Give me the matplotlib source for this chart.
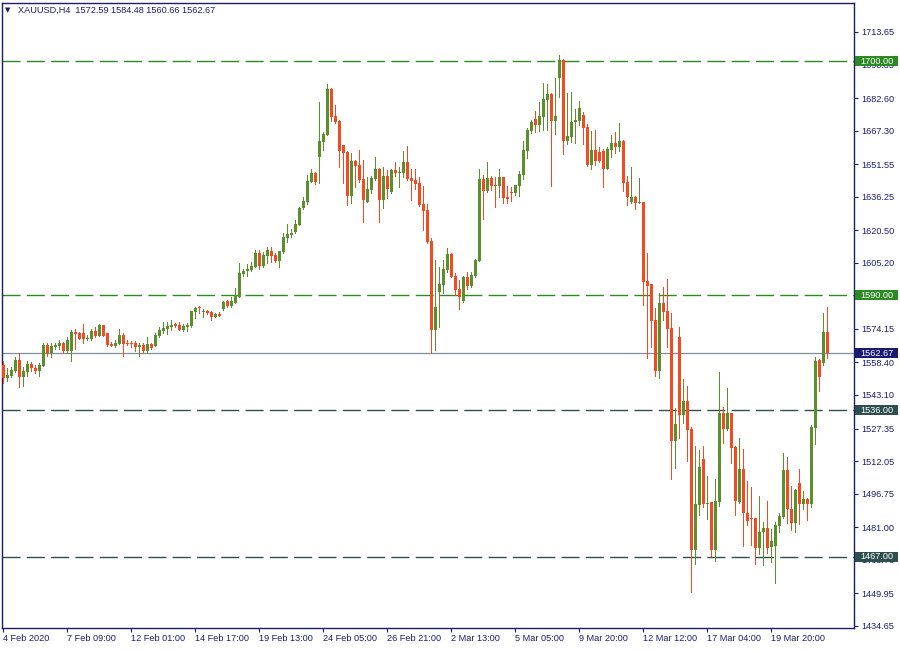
import matplotlib
matplotlib.use("Agg")
import matplotlib.pyplot as plt
import matplotlib.transforms as mtransforms
from matplotlib.patches import Rectangle
import numpy as np

plt.rcParams['font.family'] = ['Liberation Sans', 'DejaVu Sans']

# XAUUSD H4 candles (open, high, low, close)
opens = [1557.2, 1551.2, 1552.0, 1554.5, 1559.5, 1551.7, 1554.0, 1557.6, 1555.8, 1554.5,
         1556.9, 1566.6, 1562.7, 1565.5, 1566.1, 1567.7, 1563.9, 1563.9, 1572.8, 1572.0,
         1572.0, 1569.6, 1569.6, 1573.2, 1570.8, 1576.0, 1572.1, 1567.0, 1566.3, 1567.2,
         1571.4, 1567.7, 1567.7, 1567.4, 1565.8, 1566.6, 1563.9, 1567.2, 1566.3, 1570.8,
         1573.2, 1574.1, 1575.0, 1576.4, 1576.0, 1573.6, 1575.2, 1575.5, 1582.2, 1584.3,
         1581.9, 1582.6, 1582.2, 1579.9, 1581.1, 1583.3, 1587.1, 1584.9, 1586.5, 1589.3,
         1599.9, 1601.2, 1601.8, 1603.4, 1609.8, 1603.9, 1608.4, 1610.6, 1608.9, 1606.0,
         1610.4, 1617.0, 1618.3, 1619.8, 1623.0, 1631.1, 1633.8, 1643.3, 1647.2, 1655.1,
         1662.1, 1665.2, 1686.9, 1674.2, 1671.8, 1660.5, 1657.3, 1636.7, 1653.0, 1651.2,
         1644.6, 1633.9, 1639.4, 1644.6, 1649.3, 1634.7, 1646.0, 1638.3, 1648.8, 1647.5,
         1647.5, 1652.6, 1645.2, 1644.1, 1642.5, 1632.8, 1630.0, 1615.5, 1573.6, 1591.6,
         1594.8, 1601.8, 1609.3, 1599.0, 1592.7, 1587.4, 1598.7, 1594.3, 1599.0, 1606.2,
         1644.4, 1639.1, 1645.2, 1641.8, 1641.4, 1645.5, 1636.3, 1638.5, 1638.1, 1641.4,
         1646.6, 1657.9, 1667.3, 1672.6, 1669.9, 1673.9, 1681.7, 1684.5, 1672.0, 1692.2,
         1700.5, 1662.6, 1664.5, 1671.5, 1672.0, 1674.6, 1669.0, 1651.1, 1658.2, 1657.4,
         1657.6, 1649.3, 1658.2, 1661.3, 1659.8, 1662.4, 1643.2, 1633.8, 1636.1, 1633.4,
         1633.8, 1596.6, 1595.2, 1578.3, 1554.5, 1586.1, 1582.5, 1574.4, 1521.5, 1570.2,
         1533.7, 1540.3, 1527.1, 1470.3, 1491.4, 1513.0, 1491.9, 1493.0, 1470.3, 1493.0,
         1534.8, 1527.1, 1534.8, 1518.8, 1492.7, 1508.3, 1487.8, 1485.3, 1485.3, 1471.1,
         1478.9, 1480.6, 1471.8, 1472.2, 1481.7, 1485.9, 1507.9, 1489.4, 1483.1, 1501.6,
         1491.9, 1494.1, 1491.9, 1527.7, 1559.5, 1558.3, 1572.59]
highs = [1559.1, 1555.6, 1556.4, 1560.8, 1562.7, 1556.4, 1559.1, 1558.6, 1557.2, 1558.3,
         1567.4, 1567.7, 1567.4, 1567.4, 1568.9, 1568.0, 1570.2, 1573.6, 1574.1, 1572.8,
         1576.4, 1571.3, 1574.1, 1575.2, 1576.4, 1576.0, 1572.4, 1568.1, 1568.9, 1574.1,
         1572.1, 1568.9, 1568.5, 1568.5, 1567.7, 1567.4, 1570.5, 1567.7, 1572.4, 1575.2,
         1577.5, 1577.5, 1578.3, 1577.1, 1577.5, 1576.4, 1576.8, 1582.7, 1584.6, 1585.1,
         1583.3, 1583.0, 1582.7, 1581.8, 1581.9, 1587.4, 1587.7, 1589.3, 1593.2, 1605.3,
         1602.1, 1604.6, 1605.6, 1611.2, 1611.2, 1610.4, 1612.8, 1612.8, 1609.7, 1610.7,
         1619.0, 1623.4, 1620.9, 1625.3, 1631.6, 1636.3, 1646.5, 1649.1, 1647.9, 1680.7,
         1666.8, 1689.2, 1687.5, 1679.3, 1672.3, 1660.5, 1657.6, 1656.6, 1653.5, 1658.2,
         1653.5, 1645.7, 1646.0, 1654.7, 1649.6, 1650.0, 1648.8, 1649.1, 1652.6, 1650.4,
         1657.9, 1660.2, 1649.1, 1649.1, 1645.7, 1641.3, 1632.8, 1616.9, 1606.5, 1603.4,
         1606.5, 1612.0, 1610.0, 1600.3, 1597.1, 1599.2, 1600.7, 1601.0, 1606.8, 1649.3,
         1646.4, 1652.4, 1646.0, 1645.7, 1649.3, 1645.5, 1641.3, 1641.0, 1641.8, 1648.3,
         1662.6, 1668.7, 1672.3, 1676.5, 1680.7, 1689.5, 1689.4, 1685.1, 1692.0, 1702.8,
         1700.9, 1685.1, 1685.4, 1677.3, 1681.4, 1676.0, 1670.4, 1667.3, 1667.6, 1659.8,
         1658.5, 1659.8, 1665.2, 1666.5, 1670.7, 1662.9, 1646.0, 1650.2, 1636.7, 1645.0,
         1633.9, 1609.9, 1595.2, 1583.8, 1591.2, 1593.7, 1597.4, 1581.5, 1536.8, 1574.9,
         1550.4, 1547.3, 1527.9, 1519.1, 1517.2, 1519.1, 1505.0, 1493.0, 1503.6, 1554.0,
         1537.6, 1546.5, 1534.8, 1519.3, 1523.0, 1517.7, 1502.7, 1500.0, 1485.3, 1495.6,
         1483.6, 1493.3, 1480.1, 1483.6, 1487.5, 1515.7, 1513.8, 1500.3, 1498.8, 1508.2,
         1498.0, 1494.5, 1529.0, 1560.8, 1559.8, 1581.8, 1584.48]
lows = [1548.6, 1549.8, 1551.7, 1554.0, 1547.0, 1547.3, 1552.2, 1554.5, 1553.6, 1552.0,
        1556.9, 1561.6, 1561.1, 1564.7, 1564.5, 1562.7, 1562.7, 1559.1, 1564.7, 1569.2,
        1567.7, 1568.9, 1568.9, 1570.5, 1570.8, 1571.0, 1566.3, 1566.1, 1565.8, 1566.9,
        1561.6, 1566.6, 1565.8, 1563.9, 1561.6, 1563.4, 1562.7, 1564.5, 1566.1, 1570.5,
        1572.1, 1571.6, 1573.6, 1575.2, 1573.6, 1573.3, 1573.3, 1575.2, 1579.4, 1581.8,
        1579.9, 1581.0, 1578.3, 1579.6, 1580.2, 1583.0, 1584.3, 1584.6, 1586.2, 1589.3,
        1599.0, 1599.0, 1601.2, 1603.1, 1602.1, 1603.4, 1605.3, 1605.7, 1605.7, 1603.4,
        1609.9, 1615.1, 1617.5, 1619.4, 1623.0, 1630.6, 1632.8, 1643.0, 1642.2, 1642.6,
        1658.2, 1665.2, 1671.8, 1671.0, 1650.4, 1642.5, 1632.4, 1633.1, 1641.0, 1643.3,
        1624.5, 1633.9, 1637.8, 1644.1, 1624.5, 1631.1, 1635.5, 1637.8, 1646.1, 1641.0,
        1645.7, 1644.1, 1634.7, 1639.7, 1631.9, 1620.6, 1614.3, 1562.7, 1564.2, 1575.2,
        1590.9, 1601.0, 1598.4, 1590.1, 1583.5, 1586.9, 1592.7, 1593.7, 1598.7, 1606.2,
        1625.8, 1638.6, 1639.4, 1631.6, 1635.9, 1633.4, 1633.4, 1634.4, 1636.9, 1636.7,
        1644.7, 1654.6, 1666.3, 1666.8, 1667.1, 1667.6, 1667.6, 1641.3, 1665.5, 1682.9,
        1656.3, 1661.0, 1661.8, 1661.3, 1669.9, 1661.2, 1650.7, 1649.1, 1651.1, 1652.7,
        1641.0, 1649.1, 1655.1, 1656.9, 1657.9, 1639.1, 1632.3, 1633.1, 1630.3, 1633.1,
        1585.4, 1560.3, 1565.5, 1552.0, 1550.9, 1578.3, 1565.8, 1503.6, 1508.9, 1523.0,
        1530.1, 1512.1, 1450.7, 1463.7, 1486.7, 1490.6, 1484.7, 1467.5, 1465.2, 1490.9,
        1520.4, 1526.6, 1511.3, 1486.7, 1492.5, 1472.2, 1482.0, 1472.6, 1463.7, 1468.4,
        1463.2, 1468.7, 1464.8, 1454.9, 1478.9, 1485.1, 1483.1, 1479.7, 1478.9, 1482.3,
        1489.4, 1484.4, 1490.6, 1520.1, 1545.1, 1557.2, 1560.66]
closes = [1550.9, 1552.5, 1554.8, 1559.5, 1551.7, 1554.4, 1557.5, 1555.6, 1554.5, 1557.2,
          1566.6, 1562.7, 1566.3, 1566.4, 1567.7, 1563.9, 1568.9, 1572.7, 1571.7, 1569.6,
          1569.6, 1570.0, 1573.2, 1570.8, 1576.0, 1571.0, 1566.6, 1566.3, 1567.7, 1571.3,
          1567.2, 1567.2, 1567.2, 1565.8, 1566.4, 1563.9, 1567.0, 1565.3, 1571.3, 1573.6,
          1574.6, 1575.5, 1576.1, 1575.7, 1573.6, 1575.5, 1576.1, 1582.6, 1583.8, 1583.8,
          1582.7, 1581.8, 1579.9, 1581.1, 1580.4, 1586.8, 1584.9, 1587.4, 1590.1, 1600.6,
          1601.4, 1602.4, 1603.7, 1610.0, 1603.9, 1608.9, 1611.2, 1608.4, 1606.0, 1610.7,
          1617.5, 1618.7, 1619.4, 1623.4, 1631.1, 1634.2, 1643.6, 1647.2, 1643.2, 1662.4,
          1665.7, 1686.9, 1673.9, 1671.5, 1657.9, 1656.9, 1636.7, 1653.0, 1650.8, 1644.1,
          1634.7, 1639.9, 1645.2, 1649.3, 1634.7, 1646.0, 1639.9, 1648.8, 1647.5, 1647.9,
          1652.6, 1644.6, 1643.8, 1642.2, 1632.3, 1629.7, 1615.1, 1573.6, 1584.3, 1595.2,
          1602.3, 1609.3, 1598.7, 1592.4, 1589.3, 1598.7, 1594.3, 1599.5, 1606.5, 1644.4,
          1639.1, 1645.2, 1641.4, 1641.4, 1645.5, 1635.8, 1635.3, 1638.1, 1641.8, 1646.9,
          1658.2, 1667.6, 1671.5, 1669.9, 1674.2, 1682.1, 1684.5, 1672.0, 1674.2, 1700.5,
          1662.6, 1664.8, 1671.3, 1672.3, 1677.9, 1668.7, 1651.1, 1658.2, 1653.2, 1653.2,
          1649.1, 1658.5, 1661.3, 1659.8, 1662.4, 1642.8, 1636.3, 1636.1, 1633.4, 1633.8,
          1596.3, 1594.5, 1578.0, 1554.5, 1586.1, 1582.2, 1574.1, 1521.5, 1529.5, 1533.7,
          1540.3, 1526.6, 1470.3, 1491.9, 1509.4, 1491.9, 1492.5, 1470.3, 1493.4, 1534.8,
          1527.1, 1534.8, 1518.3, 1493.4, 1508.3, 1487.8, 1484.0, 1485.0, 1471.1, 1478.6,
          1480.6, 1471.4, 1474.5, 1482.0, 1486.2, 1507.9, 1489.4, 1483.1, 1498.5, 1491.9,
          1494.1, 1491.9, 1528.2, 1559.1, 1551.7, 1572.7, 1562.67]

# time axis labels every 16 bars
date_labels = ["4 Feb 2020", "7 Feb 09:00", "12 Feb 01:00", "14 Feb 17:00",
               "19 Feb 13:00", "24 Feb 05:00", "26 Feb 21:00", "2 Mar 13:00",
               "5 Mar 05:00", "9 Mar 20:00", "12 Mar 12:00", "17 Mar 04:00",
               "19 Mar 20:00"]

price_ticks = [1713.65, 1698.35, 1682.60, 1667.30, 1651.55, 1636.25, 1620.50, 1605.20,
               1589.90, 1574.15, 1558.40, 1543.10, 1527.35, 1512.05, 1496.75, 1481.00,
               1465.70, 1449.95, 1434.65]

# horizontal levels: (price, colour)
levels = [(1700.00, '#2b8a22'), (1590.00, '#2b8a22'),
          (1536.00, '#2f4f4f'), (1467.00, '#2f4f4f')]
bid = 1562.67

navy = '#1c1c6e'
bull = '#5a8f2b'
bear = '#f44a22'

o = np.array(opens)
h = np.array(highs)
l = np.array(lows)
c = np.array(closes)
x = np.arange(len(o))
up = c >= o
cols = np.where(up, bull, bear)

fig = plt.figure(figsize=(9, 6.5), dpi=100)
ax = fig.add_axes([2 / 900, 22 / 650, 852 / 900, 625 / 650])

# wicks drawn crisp, one pixel wide
ax.vlines(x, l, h, colors=cols, linewidth=0.72, antialiased=False, zorder=3)
body = np.maximum(np.abs(c - o), 0.4)
ax.bar(x, body, bottom=np.minimum(o, c), width=0.75, color=cols, linewidth=0, zorder=3)

for lvl, col in levels:
    ax.axhline(lvl, color=col, linewidth=1.0, linestyle=(0, (13, 4.5)), zorder=2)
ax.axhline(bid, color='#7f8c9a', linewidth=0.9, zorder=2)

ax.set_xlim(-0.25, 212.75)
ax.set_ylim(1433.64, 1727.25)

ax.set_xticks(np.arange(len(date_labels)) * 16)
ax.set_xticklabels(date_labels)
for t in ax.get_xticklabels():
    t.set_horizontalalignment('left')
ax.yaxis.tick_right()
ax.set_yticks(price_ticks)
ax.set_yticklabels(['%.2f' % v for v in price_ticks])
ax.tick_params(axis='both', direction='out', length=3, width=0.8, color=navy,
               labelcolor=navy, labelsize=6.6)
ax.tick_params(axis='y', pad=2)
ax.tick_params(axis='x', pad=1.5)
for s in ax.spines.values():
    s.set_color(navy)
    s.set_linewidth(1.0)

# price tags on the right axis
trans = mtransforms.blended_transform_factory(ax.transAxes, ax.transData)
box_h = 4.8
tags = levels + [(bid, '#191970')]
for lvl, col in tags:
    ax.add_patch(Rectangle((1.0015, lvl - box_h / 2), 0.0505, box_h, transform=trans,
                           facecolor=col, edgecolor='none', clip_on=False, zorder=6))
    ax.text(1.0075, lvl, '%.2f' % lvl, transform=trans, color='white', fontsize=6.6,
            ha='left', va='center', clip_on=False, zorder=7)

# chart caption
fig.text(5 / 900, 1 - 10 / 650, '\u25bc', fontsize=5, color=navy, ha='left', va='center',
         family=['DejaVu Sans'])
fig.text(18 / 900, 1 - 10 / 650, 'XAUUSD,H4  1572.59 1584.48 1560.66 1562.67',
         fontsize=6.6, color=navy, ha='left', va='center')

fig.savefig('out.png', dpi=100)
